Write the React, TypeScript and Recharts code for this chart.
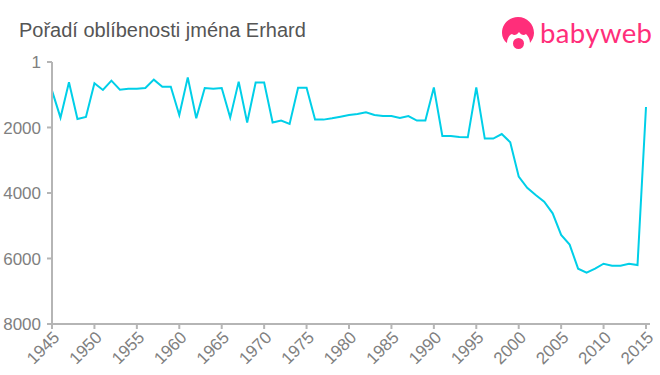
import React from "react";
import { LineChart, Line, XAxis, YAxis } from "recharts";

const years = [1945,1946,1947,1948,1949,1950,1951,1952,1953,1954,1955,1956,1957,1958,1959,1960,1961,1962,1963,1964,1965,1966,1967,1968,1969,1970,1971,1972,1973,1974,1975,1976,1977,1978,1979,1980,1981,1982,1983,1984,1985,1986,1987,1988,1989,1990,1991,1992,1993,1994,1995,1996,1997,1998,1999,2000,2001,2002,2003,2004,2005,2006,2007,2008,2009,2010,2011,2012,2013,2014,2015];
const ranks = [875,1700,620,1740,1680,650,855,570,845,815,815,795,540,754,754,1618,470,1720,795,815,795,1700,600,1850,630,630,1850,1790,1893,785,785,1760,1760,1720,1670,1620,1590,1537,1618,1650,1650,1710,1650,1790,1790,780,2260,2260,2290,2300,780,2340,2340,2200,2450,3500,3840,4060,4265,4620,5280,5575,6310,6430,6310,6160,6220,6220,6160,6200,1374];
const xTicks = [1945,1950,1955,1960,1965,1970,1975,1980,1985,1990,1995,2000,2005,2010,2015];
const yTicks = [1,2000,4000,6000,8000];
const title = "Pořadí oblíbenosti jména Erhard";
const brand = "babyweb";

const data = years.map((year, i) => ({ year, rank: ranks[i] }));
const FONT = "'Liberation Sans', Arial, sans-serif";
const AXIS = "#b5b5b5";
const TICK = "#808080";
const PINK = "#ff2e7a";

export default function App() {
  return (
    <div style={{ position: "absolute", left: 0, top: 0, width: 660, height: 375, background: "#fff" }}>
      <LineChart width={660} height={375} data={data} margin={{ top: 62, right: 14, bottom: 0, left: 0 }}>
        <XAxis
          dataKey="year"
          type="number"
          domain={[1945, 2015]}
          ticks={xTicks}
          interval={0}
          height={51}
          stroke={AXIS}
          strokeWidth={2}
          tickSize={5}
          tickMargin={1}
          angle={-45}
          textAnchor="end"
          tick={{ fill: TICK, fontSize: 17, fontFamily: FONT }}
        />
        <YAxis
          reversed
          type="number"
          domain={[1, 8000]}
          ticks={yTicks}
          interval={0}
          width={52}
          stroke={AXIS}
          strokeWidth={2}
          tickSize={5}
          tickMargin={6}
          tick={{ fill: TICK, fontSize: 17, fontFamily: FONT }}
        />
        <Line dataKey="rank" type="linear" stroke="#00cfe8" strokeWidth={2} dot={false} isAnimationActive={false} />
      </LineChart>
      <svg width={660} height={375} style={{ position: "absolute", left: 0, top: 0, pointerEvents: "none" }}>
        <line x1={646} x2={650} y1={324} y2={324} stroke={AXIS} strokeWidth={2} />
        <text x={19} y={37} fontFamily={FONT} fontSize={20} fill="#555555">{title}</text>
        <path d="M 518 17 C 509 17 502 24 502 33 C 502 37 504 41 507 43 C 507 39 509 35 512 34 C 514 36 517 35 519 32 C 521 35 524 36 526 34 C 528 36 530 39 530 43 C 532 40 534 37 534 33 C 534 24 527 17 518 17 Z" fill={PINK} />
        <circle cx={518.5} cy={43.5} r={5.5} fill={PINK} />
        <text x={540} y={43} fontFamily="Lato, 'Noto Sans', sans-serif" fontSize={27.5} letterSpacing={0.4} fill={PINK}>{brand}</text>
      </svg>
    </div>
  );
}
